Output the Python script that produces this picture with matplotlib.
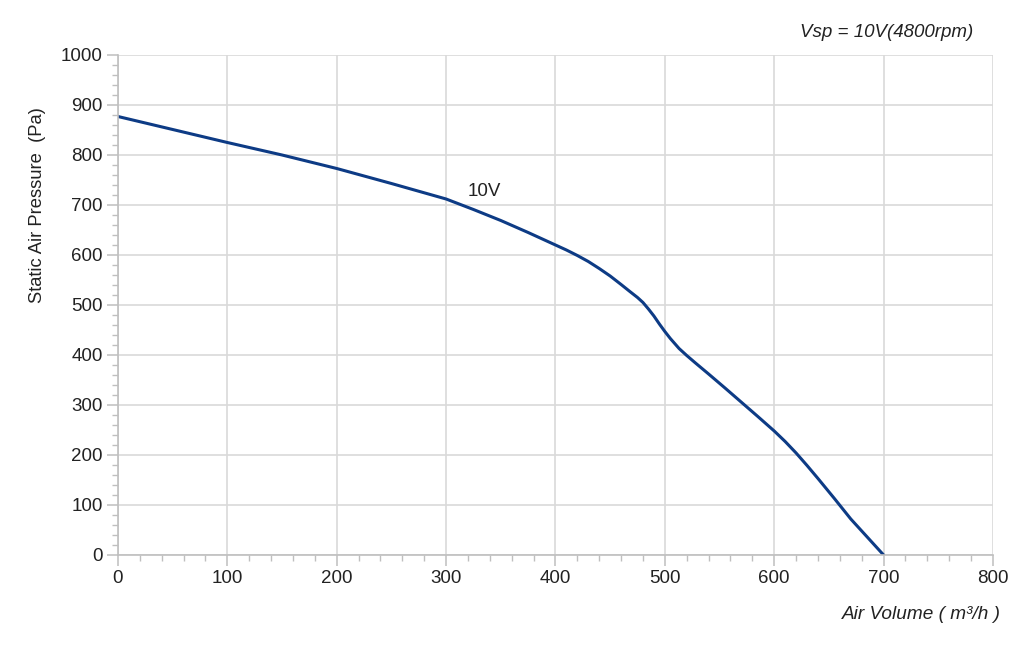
import matplotlib.pyplot as plt
from matplotlib.ticker import MultipleLocator

plt.rcParams['font.family'] = ['Liberation Sans', 'DejaVu Sans']

# curve (air volume m3/h vs static pressure Pa)
air_volume = [0, 50, 100, 150, 200, 250, 300, 325, 350, 375, 400, 410, 420, 430,
              440, 450, 460, 468, 475, 480, 485, 490, 495, 500, 505, 513, 520,
              528, 540, 555, 565, 575, 585, 600, 610, 620, 630, 640, 655, 670,
              685, 700]
pressure = [877, 851, 825, 800, 773, 743, 712, 691, 669, 645, 620, 610, 599, 587,
            573, 558, 541, 527, 515, 505, 492, 478, 462, 447, 433, 413, 399,
            384, 362, 334, 315, 296, 277, 248, 227, 204, 179, 153, 113, 72,
            36, 0]
curve_label = '10V'
title_text = 'Vsp = 10V(4800rpm)'

fig = plt.figure(figsize=(10.24, 6.47), dpi=100)
ax = fig.add_axes([0.1152, 0.1422, 0.8545, 0.7728])

ax.plot(air_volume, pressure, color='#0d3b85', lw=2.2, solid_joinstyle='round',
        solid_capstyle='round')
ax.text(320, 726, curve_label, fontsize=13.5, va='center', ha='left', color='#222222')

ax.set_xlim(0, 800)
ax.set_ylim(0, 1000)
ax.xaxis.set_major_locator(MultipleLocator(100))
ax.yaxis.set_major_locator(MultipleLocator(100))
ax.xaxis.set_minor_locator(MultipleLocator(20))
ax.yaxis.set_minor_locator(MultipleLocator(20))

ax.grid(True, which='major', color='#d9d9d9', lw=1.2)
ax.set_axisbelow(True)
for s in ['top', 'right']:
    ax.spines[s].set_visible(False)
for s in ['left', 'bottom']:
    ax.spines[s].set_color('#bfbfbf')
    ax.spines[s].set_linewidth(1.2)

ax.tick_params(which='major', direction='out', length=8, width=1.1, color='#bfbfbf',
               labelsize=13.5, labelcolor='#222222', pad=3)
ax.tick_params(which='minor', direction='out', length=4.5, width=1.0, color='#bfbfbf')

fig.text(0.950, 0.9505, title_text, fontsize=13.5, style='italic', ha='right', va='center',
         color='#222222')
fig.text(0.9775, 0.0495, 'Air Volume ( m³/h )', fontsize=13.7, style='italic', ha='right',
         va='center', color='#222222')
fig.text(0.037, 0.683, 'Static Air Pressure  (Pa)', fontsize=13.2, rotation=90, ha='center',
         va='center', color='#222222')

fig.savefig('out.png', dpi=100)
